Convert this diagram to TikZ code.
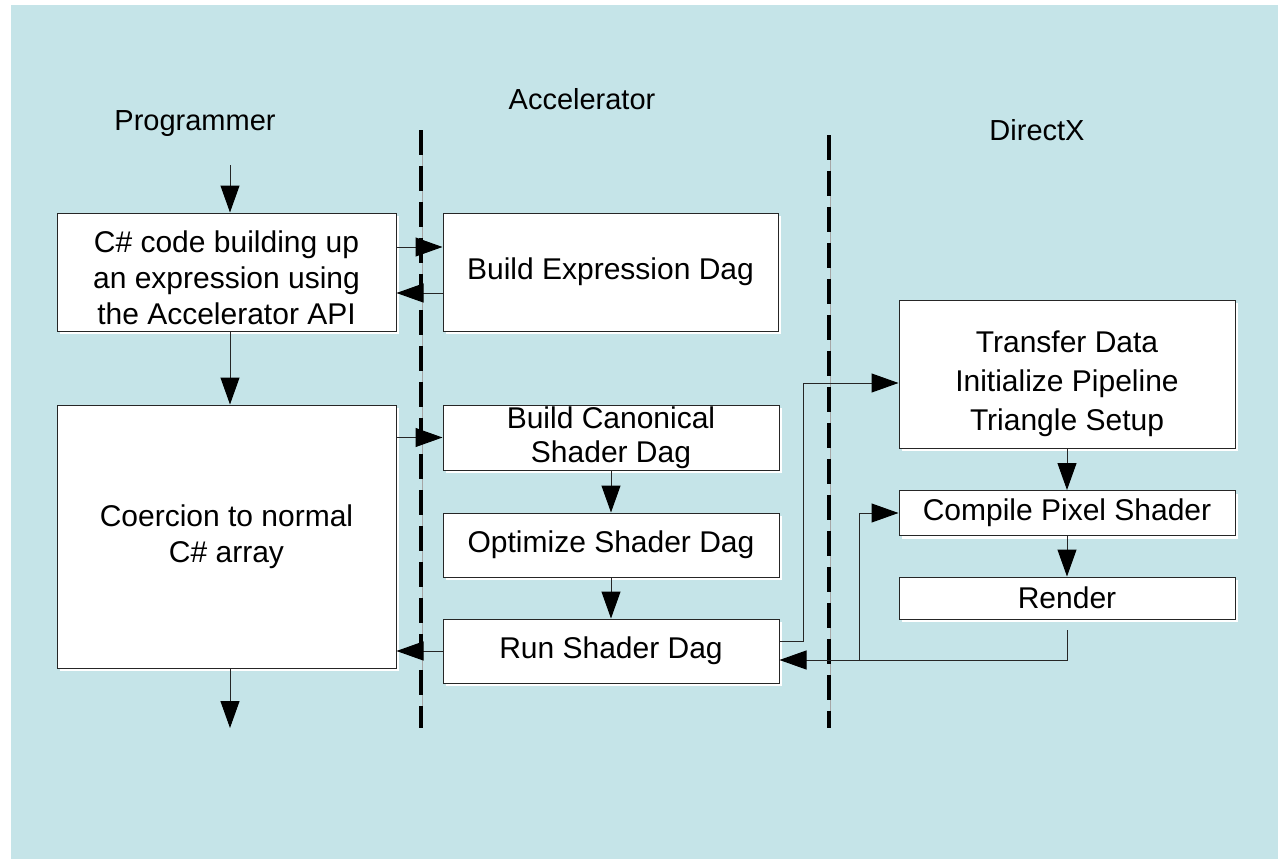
\documentclass[tikz,border=0pt]{standalone}
\usepackage{fontspec}
\setmainfont{Liberation Sans}
\usetikzlibrary{arrows.meta,shadows}
\definecolor{bgblue}{HTML}{C5E4E8}
\begin{document}
\begin{tikzpicture}[x=1pt,y=-1pt,
  box/.style={draw=black!85, line width=1pt, fill=white, inner sep=0pt, align=center,
    font=\fontsize{30}{36}\selectfont,
    general shadow={fill=white, shadow xshift=3pt, shadow yshift=-3pt}},
  arr/.style={draw=black!85, line width=1pt, -{Triangle[length=27pt,width=19pt,color=black,fill=black]}},
  title/.style={font=\fontsize{29}{35}\selectfont, inner sep=0pt},
  sepdash/.style={line width=4.5pt, dash pattern=on 25pt off 11pt},
  sepline/.style={draw=black!35, line width=1.5pt}]
\useasboundingbox (0,0) rectangle (1278,859);
\fill[bgblue] (11,5) rectangle (1278,859);

% titles
\node[title, anchor=base] (tprog) at (195,131) {Programmer};
\node[title, anchor=base] (tacc) at (582,110) {Accelerator};
\node[title, anchor=base] (tdx) at (1037,140) {DirectX};

% separators
\coordinate (s1a) at (421,130);
\coordinate (s1b) at (421,728);
\coordinate (s2a) at (829,135);
\coordinate (s2b) at (829,728);
\draw[sepline] ([xshift=1.5pt]s1a) -- ([xshift=1.5pt]s1b);
\draw[sepdash] (s1a) -- (s1b);
\draw[sepline] ([xshift=1.5pt]s2a) -- ([xshift=1.5pt]s2b);
\draw[sepdash] (s2a) -- (s2b);

% boxes
\node[box, minimum width=339pt, minimum height=118pt] (b1) at (226.5,272)
  {\rule{0pt}{33pt}C\# code building up\\an expression using\\the Accelerator API};
\node[box, minimum width=335pt, minimum height=118pt] (b2) at (610.5,272)
  {Build Expression Dag};
\node[box, minimum width=339pt, minimum height=263pt] (b3) at (226.5,536.5)
  {Coercion to normal\\C\# array};
\node[box, minimum width=336pt, minimum height=65pt, font=\fontsize{30}{34}\selectfont] (b4) at (611,437.5)
  {Build Canonical\\Shader Dag};
\node[box, minimum width=336pt, minimum height=64pt] (b5) at (611,545)
  {Optimize Shader Dag};
\node[box, minimum width=336pt, minimum height=64pt] (b6) at (611,651)
  {Run Shader Dag};
\node[box, minimum width=336pt, minimum height=148pt, font=\fontsize{30}{39}\selectfont] (b7) at (1067,374)
  {\rule{0pt}{41pt}Transfer Data\\Initialize Pipeline\\Triangle Setup};
\node[box, minimum width=336pt, minimum height=45pt] (b8) at (1067,513)
  {Compile Pixel Shader};
\node[box, minimum width=336pt, minimum height=42pt] (b9) at (1067,598)
  {Render};

% connectors
\coordinate (in) at (230,165);
\coordinate (out) at (230,728);
\draw[arr] (in) -- (in |- b1.north);
\draw[arr] ([yshift=25pt]b1.east) -- ([yshift=25pt]b2.west);
\draw[arr] ([yshift=-21pt]b2.west) -- ([yshift=-21pt]b1.east);
\draw[arr] ([xshift=3.5pt]b1.south) -- ([xshift=3.5pt]b3.north);
\draw[arr] (b3.east |- b4.west) -- (b4.west);
\draw[arr] (b4.south) -- (b5.north);
\draw[arr] (b5.south) -- (b6.north);
\draw[arr] (b6.west) -- (b6.west -| b3.east);
\draw[arr] ([xshift=3.5pt]b3.south) -- (out);

\coordinate (c1) at (803,383);
\draw[arr] ([yshift=10pt]b6.east) -| (c1) -- (c1 -| b7.west);
\draw[arr] (b7.south) -- (b8.north);
\draw[arr] (b8.south) -- (b9.north);

\coordinate (r1) at (1067,630);
\coordinate (r2) at (1067,660);
\coordinate (j) at (859,660);
\draw[arr] (r1) -- (r2) -- (r2 -| b6.east);
\draw[arr] (j) |- (b8.west);
\end{tikzpicture}
\end{document}
